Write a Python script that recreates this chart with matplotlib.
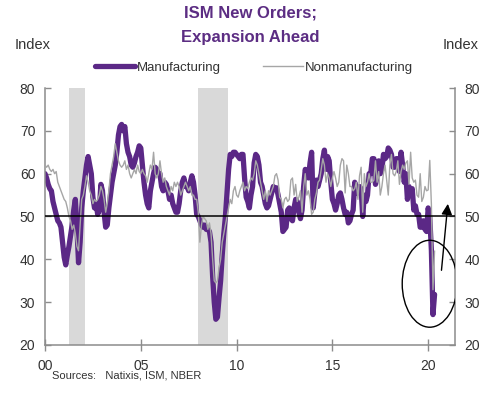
"""ISM new orders: manufacturing vs nonmanufacturing, 2000-2020."""

import matplotlib
matplotlib.use("Agg")
import matplotlib.pyplot as plt
import numpy as np
from matplotlib.patches import Ellipse

# monthly values, Jan 2000 .. May 2020
manufacturing = [
    60.0, 59.0, 57.5, 56.5, 56.0, 53.5, 52.0, 50.5, 49.0, 48.5, 47.5, 44.0,   # 2000
    40.5, 38.7, 41.0, 43.0, 45.5, 48.0, 51.5, 54.0, 47.5, 39.2, 44.0, 52.0,   # 2001
    56.0, 59.0, 62.0, 64.0, 62.0, 60.0, 54.5, 52.0, 53.0, 50.5, 51.5, 57.5,   # 2002
    56.0, 51.0, 47.5, 48.0, 52.0, 55.0, 58.0, 60.0, 62.0, 65.0, 69.0, 71.0,   # 2003
    71.5, 70.0, 71.0, 67.0, 65.0, 64.0, 62.0, 61.5, 62.5, 64.0, 65.0, 66.5,   # 2004
    66.0, 62.0, 58.0, 55.0, 53.0, 52.0, 56.0, 58.0, 60.0, 61.5, 61.0, 60.0,   # 2005
    60.0, 57.0, 56.0, 58.0, 57.5, 56.0, 54.0, 55.0, 53.0, 52.0, 51.0, 51.0,   # 2006
    53.0, 56.0, 58.0, 59.0, 57.0, 57.0, 56.0, 58.0, 59.5, 58.0, 55.0, 50.5,   # 2007
    50.0, 49.0, 48.0, 47.5, 48.0, 47.0, 47.0, 46.5, 44.0, 36.0, 30.0, 26.0,   # 2008
    26.5, 31.0, 35.0, 41.0, 46.0, 50.0, 55.5, 61.0, 64.5, 64.0, 65.0, 65.0,   # 2009
    64.5, 64.0, 63.5, 64.5, 64.5, 59.0, 54.5, 53.5, 52.0, 55.0, 57.0, 62.5,   # 2010
    64.5, 64.0, 62.0, 58.0, 57.0, 55.0, 53.0, 52.0, 52.5, 54.0, 55.5, 57.0,   # 2011
    56.5, 56.7, 55.0, 53.0, 51.0, 46.5, 47.0, 47.5, 51.5, 52.0, 49.5, 49.0,   # 2012
    52.0, 54.0, 53.5, 51.0, 49.5, 51.5, 57.0, 61.0, 60.0, 59.0, 62.5, 65.0,   # 2013
    52.0, 55.5, 58.5, 57.0, 58.5, 60.0, 63.5, 65.5, 61.0, 64.0, 63.0, 58.0,   # 2014
    54.0, 53.0, 51.5, 53.0, 55.0, 55.5, 54.0, 52.0, 50.5, 51.0, 48.5, 49.0,   # 2015
    50.5, 51.5, 58.0, 55.5, 55.5, 57.0, 56.5, 50.0, 55.0, 53.5, 55.0, 60.0,   # 2016
    60.0, 63.5, 63.5, 57.5, 59.5, 63.0, 60.0, 61.0, 64.5, 63.5, 64.0, 66.0,   # 2017
    65.5, 64.5, 61.5, 61.5, 63.5, 63.5, 60.5, 65.0, 62.0, 58.0, 60.0, 54.0,   # 2018
    57.0, 55.0, 56.5, 51.5, 52.5, 50.5, 50.5, 47.5, 47.5, 49.0, 47.0, 46.5,   # 2019
    52.0, 49.8, 42.2, 27.1, 31.8,                                             # 2020
]
nonmanufacturing = [
    62.0, 61.5, 62.0, 61.0, 60.5, 61.0, 60.0, 60.5, 58.0, 57.0, 56.0, 55.0,   # 2000
    54.0, 53.5, 52.0, 50.0, 49.0, 47.0, 48.0, 46.0, 43.0, 42.0, 48.0, 54.0,   # 2001
    55.0, 57.0, 59.5, 58.0, 56.0, 55.0, 53.0, 54.0, 53.5, 54.0, 55.0, 57.0,   # 2002
    56.0, 54.0, 51.0, 53.0, 56.0, 60.0, 62.0, 64.0, 67.0, 65.0, 63.0, 62.0,   # 2003
    61.5, 62.0, 63.0, 61.0, 62.0, 60.0, 59.0, 60.0, 61.0, 60.0, 62.0, 60.5,   # 2004
    60.0, 61.0, 60.0, 59.5, 58.0, 60.0, 62.0, 61.0, 65.0, 60.0, 59.0, 60.0,   # 2005
    63.0, 60.0, 58.0, 59.0, 57.0, 56.0, 55.0, 57.0, 56.0, 58.0, 57.0, 58.0,   # 2006
    57.0, 55.0, 56.0, 57.0, 58.0, 57.0, 56.0, 57.0, 55.0, 55.0, 54.0, 54.0,   # 2007
    51.0, 44.0, 48.0, 50.0, 49.5, 49.0, 47.0, 48.5, 46.0, 40.0, 35.0, 34.5,   # 2008
    35.0, 38.0, 40.0, 44.0, 46.0, 48.0, 50.0, 52.0, 54.0, 53.0, 56.0, 57.0,   # 2009
    55.0, 54.5, 56.0, 57.0, 58.0, 56.0, 57.0, 56.5, 58.0, 59.0, 58.5, 60.0,   # 2010
    63.0, 62.0, 60.0, 58.0, 56.0, 54.0, 56.0, 53.5, 56.0, 55.0, 56.0, 57.0,   # 2011
    59.5, 60.0, 58.5, 54.5, 54.0, 52.0, 54.0, 54.5, 53.5, 54.0, 58.5, 59.0,   # 2012
    55.0, 57.5, 53.5, 54.5, 56.0, 51.0, 57.0, 60.0, 55.0, 56.0, 54.0, 50.5,   # 2013
    51.0, 54.0, 55.5, 58.0, 58.5, 61.0, 63.5, 62.0, 58.0, 60.0, 59.0, 57.0,   # 2014
    59.0, 60.5, 59.0, 57.0, 58.0, 62.0, 63.5, 63.0, 55.5, 62.0, 60.0, 57.0,   # 2015
    57.0, 56.0, 56.5, 58.0, 54.0, 59.5, 61.5, 51.0, 60.0, 57.0, 58.0, 60.0,   # 2016
    58.0, 58.0, 58.5, 63.0, 58.0, 60.5, 55.0, 57.0, 60.0, 62.0, 58.5, 55.0,   # 2017
    62.0, 64.5, 60.0, 59.5, 60.5, 63.0, 57.5, 60.5, 62.0, 61.0, 62.5, 63.0,   # 2018
    57.5, 65.0, 59.0, 58.0, 58.5, 55.0, 54.5, 60.0, 53.5, 54.5, 57.0, 56.0,   # 2019
    56.2, 63.1, 52.9, 32.9, 41.9,                                             # 2020
]
recessions = [(2001.25, 2002.08), (2007.99, 2009.55)]
tick_years = [2000, 2005, 2010, 2015, 2020]
tick_labels = ["00", "05", "10", "15", "20"]

PURPLE = "#5B2886"
TITLE_PURPLE = "#5C2D83"
AXIS_GREY = "#8C8C8C"
TEXT = "#333333"


def plot_ism(save_path="out.png"):
    matplotlib.rcParams.update({
        "font.family": "Liberation Sans",
        "font.size": 10,
        "xtick.labelsize": 10,
        "ytick.labelsize": 10,
    })

    n = len(manufacturing)
    t = 2000 + np.arange(n) / 12.0

    fig = plt.figure(figsize=(5.0, 3.95), dpi=100)
    ax = fig.add_axes([0.09, 0.1266, 0.82, 0.6506])

    for start, end in recessions:
        ax.axvspan(start, end, color="#D9D9D9", lw=0, zorder=0)

    ax.plot(t, manufacturing, color=PURPLE, lw=3.8, solid_joinstyle="round",
            solid_capstyle="round", label="Manufacturing", zorder=2)
    ax.plot(t, nonmanufacturing, color="#A6A6A6", lw=1.0,
            label="Nonmanufacturing", zorder=3)
    ax.axhline(50, color="black", lw=1.1, zorder=4)

    # circle round the 2020 collapse + rebound arrow
    ax.add_patch(Ellipse((2020.08, 34.3), 2.87, 20.3, fill=False,
                         edgecolor="black", lw=1.0, zorder=5))
    ax.annotate("", xy=(2021.04, 53.6), xytext=(2020.68, 36.8),
                arrowprops=dict(arrowstyle="-|>", color="black", lw=1.0,
                                mutation_scale=16), zorder=5)

    ax.set_xlim(2000, 2021.4)
    ax.set_ylim(20, 80)
    ax.set_xticks(tick_years)
    ax.set_xticklabels(tick_labels)
    ax.set_yticks(range(20, 81, 10))

    ax.spines["top"].set_visible(False)
    for side in ("left", "right", "bottom"):
        ax.spines[side].set_color(AXIS_GREY)
        ax.spines[side].set_linewidth(1.1)

    ax.tick_params(axis="y", direction="in", length=4, width=1.0,
                   color=AXIS_GREY, labelcolor=TEXT, pad=7,
                   left=True, right=True, labelleft=True, labelright=True)
    ax.tick_params(axis="x", direction="inout", length=8, width=1.0,
                   color=AXIS_GREY, labelcolor=TEXT, pad=6)

    fig.text(0.5, 0.967, "ISM New Orders;", ha="center", va="center",
             fontsize=12, fontweight="bold", color=TITLE_PURPLE)
    fig.text(0.5, 0.906, "Expansion Ahead", ha="center", va="center",
             fontsize=12, fontweight="bold", color=TITLE_PURPLE)
    fig.text(0.03, 0.886, "Index", ha="left", va="center", fontsize=10.5,
             color=TEXT)
    fig.text(0.886, 0.886, "Index", ha="left", va="center", fontsize=10.5,
             color=TEXT)
    fig.text(0.104, 0.05, "Sources:   Natixis, ISM, NBER", ha="left",
             va="center", fontsize=8, color=TEXT)

    ax.legend(loc="center", bbox_to_anchor=(0.508, 0.828),
              bbox_transform=fig.transFigure, ncol=2, frameon=False,
              fontsize=9.5, handlelength=3.0, handletextpad=0.15,
              columnspacing=3.2, labelcolor=TEXT)

    fig.savefig(save_path, dpi=100)
    plt.close(fig)


if __name__ == "__main__":
    plot_ism()
